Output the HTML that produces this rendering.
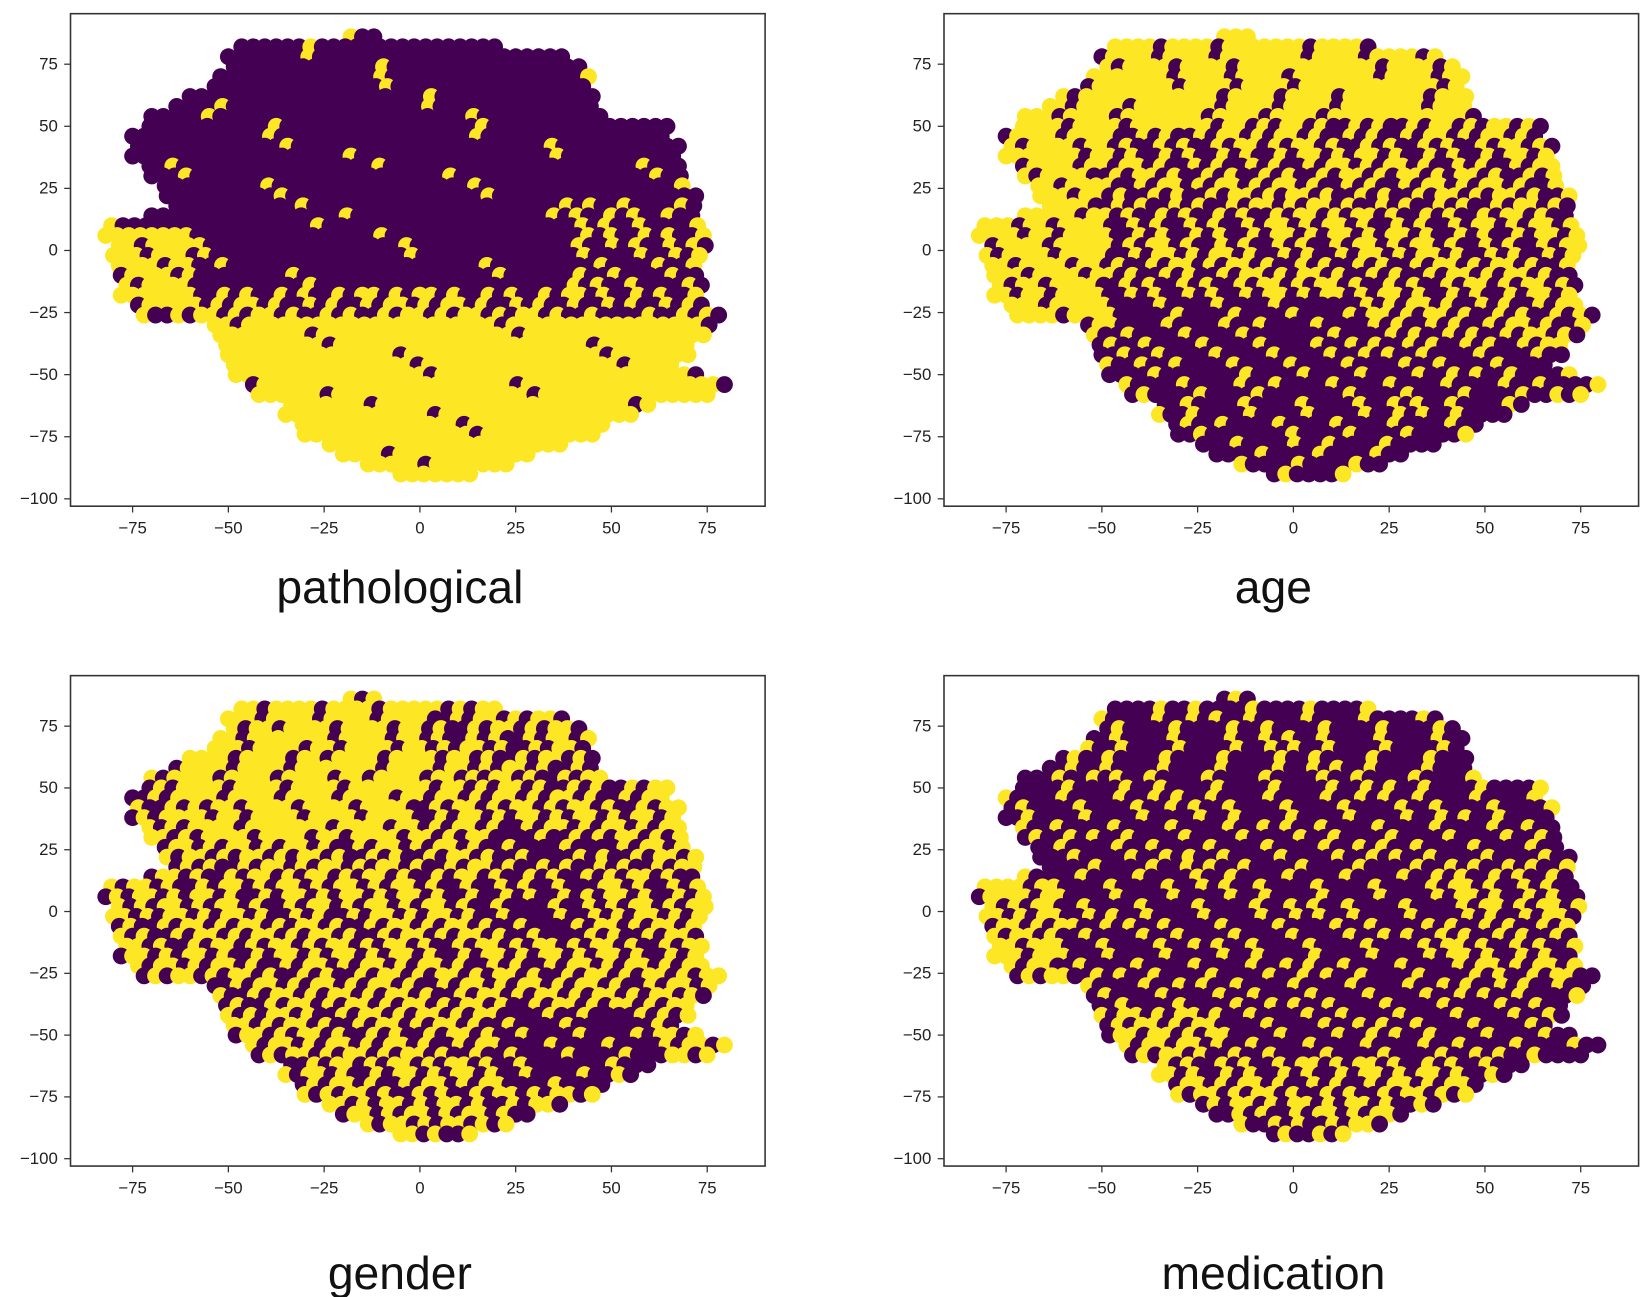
<!DOCTYPE html>
<html><head><meta charset="utf-8">
<style>
html,body{margin:0;padding:0;background:#fff;}
svg{display:block;font-family:"Liberation Sans",sans-serif;}
</style></head>
<body>
<svg width="1646" height="1297" viewBox="0 0 1646 1297"><g id="fig" transform="scale(1.0524)"></g></svg>
<script>
// Data rows of the embedding blob (y value and x extent per row, in data units)
const rowY   = [86,82,78,74,70,66,62,58,54,50,46,42,38,34,30,26,22,18,14,10,6,2,-2,-6,-10,-14,-18,-22,-26,-30,-34,-38,-42,-46,-50,-54,-58,-62,-66,-70,-74,-78,-82,-86,-90];
const rowMin = [-18,-48,-50,-50,-52,-55,-60,-65,-70,-72,-75,-75,-75,-72,-70,-68,-66,-65,-70,-82,-82,-80,-80,-80,-78,-78,-78,-75,-72,-55,-52,-52,-50,-50,-48,-45,-42,-35,-35,-32,-30,-25,-20,-15,-5];
const rowMax = [-10,20,38,42,45,45,45,45,48,65,65,68,68,70,70,70,72,72,72,75,75,75,75,74,74,74,74,76,80,78,75,72,70,68,72,80,75,60,55,50,45,38,30,25,15];
const xTicks = [-75,-50,-25,0,25,50,75];
const yTicks = [75,50,25,0,-25,-50,-75,-100];
const titles = ["pathological","age","gender","medication"];
// yellow-fraction zones per panel: [x0,x1,y0,y1,fraction]
const baseFrac = [0.05,0.45,0.55,0.25];
const zonesPath = [[-100,100,-28,-15,0.5],[-100,100,-100,-28,0.95],[-85,-60,-25,8,0.85],[40,80,-28,20,0.3]];
const zonesAge = [[-100,100,50,90,0.85],[-85,-50,-30,60,0.8],[-20,60,-30,50,0.5],[-45,20,-95,-20,0.2],[20,75,-95,-40,0.25]];
const zonesGender = [[-60,0,30,90,0.8],[20,60,-70,-40,0.2],[15,45,-10,30,0.3]];
const zonesMed = [[-85,-60,-30,10,0.7],[-55,-20,-60,-40,0.6],[-40,50,-95,-60,0.5],[40,75,-30,20,0.45]];
const zones = [zonesPath,zonesAge,zonesGender,zonesMed];

const NS="http://www.w3.org/2000/svg";
const svg=document.getElementById('fig');
const panels=[{l:67,t:13,r:727,b:481,ty:558},{l:897,t:13,r:1557,b:481,ty:558},{l:67,t:642,r:727,b:1108,ty:1210},{l:897,t:642,r:1557,b:1108,ty:1210}];
const names=["pathological","age","gender","medication"];
function mk(tag,attrs,parent){const e=document.createElementNS(NS,tag);for(const k in attrs)e.setAttribute(k,attrs[k]);(parent||svg).appendChild(e);return e;}

panels.forEach((p,pi)=>{
  const g=mk('g',{});
  
  
  const sx=v=>p.l+332+v*3.64;
  const y75=p.t+48, y100=p.b-7;
  const syy=v=>y75+(75-v)*(y100-y75)/175;
  const clip=mk('clipPath',{id:'c'+pi},g);
  mk('rect',{x:p.l,y:p.t,width:p.r-p.l,height:p.b-p.t},clip);
  const pts=mk('g',{'clip-path':'url(#c'+pi+')'},g);
  
  
  rowY.forEach((y,i)=>{
    const off=(i%2)*1.5;
    let j=0;
    for(let x=rowMin[i]+off;x<=rowMax[i];x+=3,j++){
      let f=baseFrac[pi];
      zones[pi].forEach(z=>{if(x>=z[0]&&x<=z[1]&&y>=z[2]&&y<=z[3])f=z[4];});
      const v=((i*37+j*61+pi*13)%100)/100;
      const c=mk('circle',{cx:sx(x).toFixed(1),cy:syy(y).toFixed(1),r:8,fill:v<f?'#fde725':'#440154'},pts);
      
      
    }
  });
  const fr=mk('rect',{x:p.l,y:p.t,width:p.r-p.l,height:p.b-p.t,fill:'none',stroke:'#333','stroke-width':1.5},g);
  
  
  xTicks.forEach(t=>{
    const x=sx(t);
    mk('line',{x1:x,x2:x,y1:p.b,y2:p.b+6,stroke:'#333','stroke-width':1.2},g);
    const tx=mk('text',{x:x,y:p.b+26,'font-size':16,'text-anchor':'middle',fill:'#222'},g);
    tx.textContent=(t<0?'\u2212'+(-t):t);
    
    
  });
  yTicks.forEach(t=>{
    const y=syy(t);
    mk('line',{x1:p.l-6,x2:p.l,y1:y,y2:y,stroke:'#333','stroke-width':1.2},g);
    const tx=mk('text',{x:p.l-12,y:y+5,'font-size':16,'text-anchor':'end',fill:'#222'},g);
    tx.textContent=(t<0?'\u2212'+(-t):t);
    
    
  });
  const ti=mk('text',{x:(p.l+p.r)/2-17,y:p.ty+15,'font-size':44,'text-anchor':'middle',fill:'#111'},g);
  ti.textContent=titles[pi];
  
  
});
</script>
</body></html>
